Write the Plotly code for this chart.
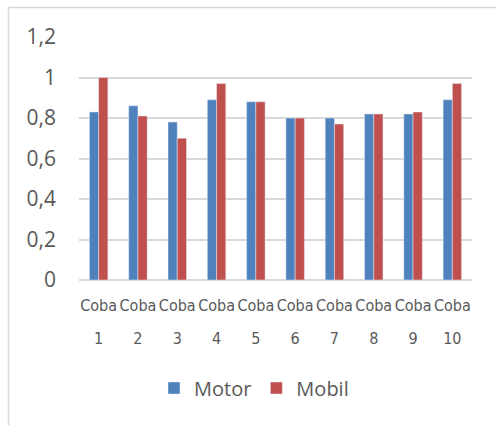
import plotly.graph_objects as go

categories = [f"Coba {i}" for i in range(1, 11)]
motor = [0.83, 0.86, 0.78, 0.89, 0.88, 0.80, 0.80, 0.82, 0.82, 0.89]
mobil = [1.00, 0.81, 0.70, 0.97, 0.88, 0.80, 0.77, 0.82, 0.83, 0.97]
y_ticks = [0, 0.2, 0.4, 0.6, 0.8, 1.0, 1.2]
y_labels = ["0", "0,2", "0,4", "0,6", "0,8", "1", "1,2"]

W, H = 496, 425
ML, MR, MT, MB = 79, 24, 37, 145
PW, PH = W - ML - MR, H - MT - MB

NARROW = "DejaVu Sans Condensed, Liberation Sans Narrow, sans-serif"
GRID = "#d9d9d9"
TEXT = "#595959"


def px_x(p):
    return (p - ML) / PW


def px_y(p):
    return (H - MB - p) / PH


def two_line(label):
    # small glyphs inside a larger base font give the wide line spacing
    word, num = label.split(" ")
    span = "<span style='font-size:16px;font-stretch:condensed'>{}</span>"
    return span.format(word) + "<br>" + span.format(num)


fig = go.Figure()
fig.add_bar(x=categories, y=motor, name="Motor", marker_color="#4F81BD")
fig.add_bar(x=categories, y=mobil, name="Mobil", marker_color="#C0504D")

fig.update_layout(
    width=W, height=H,
    margin=dict(l=ML, r=MR, t=MT, b=MB, pad=0),
    paper_bgcolor="white", plot_bgcolor="white",
    barmode="group", bargap=0.53, bargroupgap=0,
    font=dict(family="Open Sans, sans-serif", color=TEXT),
    showlegend=True,
    legend=dict(
        orientation="h", x=px_x(254), y=px_y(388),
        xanchor="center", yanchor="middle",
        font=dict(size=20, color=TEXT), itemwidth=30,
        traceorder="normal",
    ),
    shapes=[
        dict(type="line", xref="paper", yref="paper",
             x0=px_x(8.5), x1=px_x(W + 5), y0=px_y(7.5), y1=px_y(7.5),
             line=dict(color=GRID, width=1.5)),
        dict(type="line", xref="paper", yref="paper",
             x0=px_x(8.5), x1=px_x(8.5), y0=px_y(7.5), y1=px_y(H + 5),
             line=dict(color=GRID, width=1.5)),
    ],
)

fig.update_xaxes(
    tickmode="array", tickvals=categories,
    ticktext=[two_line(c) for c in categories],
    tickfont=dict(family=NARROW, size=25, color=TEXT),
    tickangle=0, automargin=False,
    ticks="", showline=False, showgrid=False, zeroline=False,
    ticklabelstandoff=5,
)
fig.update_yaxes(
    range=[0, 1.2], tickmode="array", tickvals=y_ticks, ticktext=y_labels,
    tickfont=dict(size=21, color=TEXT),
    showgrid=True, gridcolor=GRID, gridwidth=1.5,
    zeroline=True, zerolinecolor=GRID, zerolinewidth=1.5,
    showline=False, ticks="", ticklabelstandoff=22,
)

fig.write_html("out.html")
